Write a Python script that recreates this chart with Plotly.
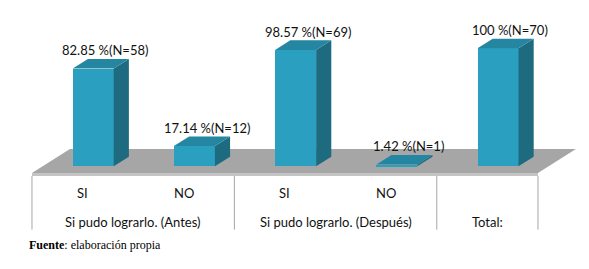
import plotly.graph_objects as go

# ---- data ----
groups = ["Si pudo lograrlo. (Antes)", "Si pudo lograrlo. (Después)", "Total:"]
group_sizes = [2, 2, 1]
categories = ["SI", "NO", "SI", "NO", ""]
values = [82.85, 17.14, 98.57, 1.42, 100]
counts = [58, 12, 69, 1, 70]
value_labels = ["82.85", "17.14", "98.57", "1.42", "100"]

# ---- style / geometry ----
FRONT = "#2B9FBF"
SIDE = "#1E6B80"
TOP = "#2586A1"
FLOOR = "#A6A6A6"
FLOOR_FRONT = "#C4C4C4"
LINE = "#A6A6A6"
TXT = "#111111"
FONT = "Lato"

DX, DY = 0.375, 20.3      # floor depth vector (data units)
TF, TB = 0.28, 0.68       # bar front/back depth fractions
W = 0.405                 # bar width

n = len(values)
xs = list(range(n))

fig = go.Figure()

# front faces as bars
fig.add_trace(go.Bar(
    x=[c + TF * DX for c in xs], y=values, base=[TF * DY] * n, width=W,
    marker=dict(color=FRONT, line=dict(width=0)), hoverinfo="skip", showlegend=False))

dd, ddy = (TB - TF) * DX, (TB - TF) * DY
for c, v in zip(xs, values):
    xl = c + TF * DX - W / 2
    xr = c + TF * DX + W / 2
    yb = TF * DY
    yt = yb + v
    # side
    fig.add_trace(go.Scatter(
        x=[xr, xr + dd, xr + dd, xr, xr], y=[yb, yb + ddy, yt + ddy, yt, yb],
        fill="toself", fillcolor=SIDE, mode="lines", line=dict(width=0),
        hoverinfo="skip", showlegend=False))
    # top
    fig.add_trace(go.Scatter(
        x=[xl, xr, xr + dd, xl + dd, xl], y=[yt, yt, yt + ddy, yt + ddy, yt],
        fill="toself", fillcolor=TOP, mode="lines", line=dict(width=0),
        hoverinfo="skip", showlegend=False))

shapes = []
x0, x1 = -0.5, n - 0.5
# floor top
shapes.append(dict(type="path", xref="x", yref="y", layer="below",
                   path=f"M{x0},0 L{x1},0 L{x1+DX},{DY} L{x0+DX},{DY} Z",
                   fillcolor=FLOOR, line=dict(width=0)))
# floor front strip
shapes.append(dict(type="rect", xref="x", yref="y", layer="below",
                   x0=x0, x1=x1, y0=-2.5, y1=0, fillcolor=FLOOR_FRONT, line=dict(width=0)))

# dividers
bounds = [x0]
acc = x0
for s in group_sizes:
    acc += s
    bounds.append(acc)
for b in bounds:
    shapes.append(dict(type="line", xref="x", yref="y", x0=b, x1=b, y0=-2.5, y1=-48,
                       line=dict(color=LINE, width=1)))

annotations = []
# value labels
for c, v, vl, k in zip(xs, values, value_labels, counts):
    annotations.append(dict(x=c + 0.6 * DX, y=v + TB * DY + 7.5, xref="x", yref="y",
                            text=f"{vl} %(N={k})", showarrow=False,
                            font=dict(family=FONT, size=13, color=TXT)))
# category labels
for c, lab in zip(xs, categories):
    if lab:
        annotations.append(dict(x=c, y=-17, xref="x", yref="y", text=lab, showarrow=False,
                                font=dict(family=FONT, size=13, color=TXT)))
# group labels
start = 0
for g, s in zip(groups, group_sizes):
    annotations.append(dict(x=(start + start + s - 1) / 2, y=-41.5, xref="x", yref="y",
                            text=g, showarrow=False, font=dict(family=FONT, size=13, color=TXT)))
    start += s

W_FIG, H_FIG = 581, 261
annotations.append(dict(x=19 / W_FIG, y=1 - 237 / H_FIG, xref="paper", yref="paper",
                        xanchor="left", yanchor="middle", showarrow=False,
                        text="<b>Fuente</b>: elaboración propia",
                        font=dict(family="Liberation Serif", size=12, color="#000")))

fig.update_layout(
    width=W_FIG, height=H_FIG, margin=dict(l=0, r=0, t=0, b=0),
    paper_bgcolor="white", plot_bgcolor="white",
    xaxis=dict(range=[-0.737, 5.004], visible=False, fixedrange=True),
    yaxis=dict(range=[-81.36, 139.8], visible=False, fixedrange=True),
    shapes=shapes, annotations=annotations, showlegend=False, bargap=0,
)

fig.write_html("out.html")
